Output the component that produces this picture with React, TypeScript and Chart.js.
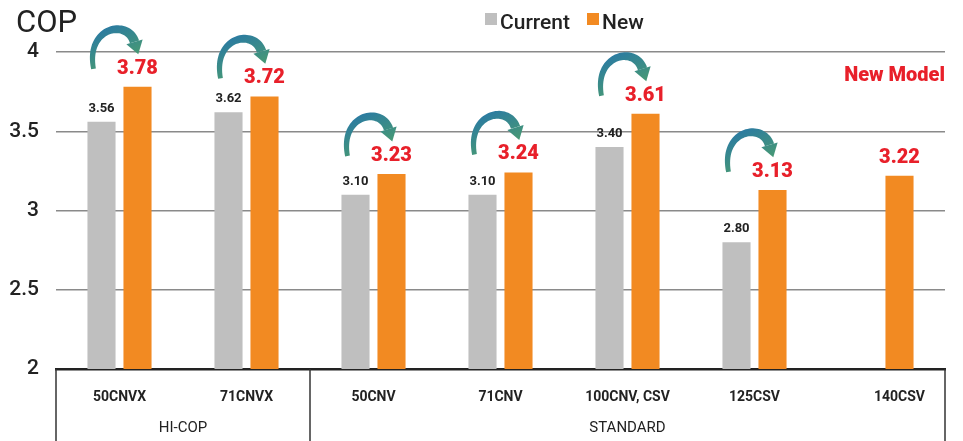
import React, { useEffect, useRef } from 'react';
import { Chart, registerables } from 'chart.js';

Chart.register(...registerables);

const categories = ['50CNVX', '71CNVX', '50CNV', '71CNV', '100CNV, CSV', '125CSV', '140CSV'];
const currentValues: (number | null)[] = [3.56, 3.62, 3.1, 3.1, 3.4, 2.8, null];
const newValues: number[] = [3.78, 3.72, 3.23, 3.24, 3.61, 3.13, 3.22];
const groupLabels = ['HI-COP', 'STANDARD'];
const groupStart = [0, 2];
const groupEnd = [1, 6];
const seriesNames = ['Current', 'New'];
const yMin = 2;
const yMax = 4;
const yStep = 0.5;
const noteText = 'New Model';
const axisTitle = 'COP';

const FONT = 'Roboto, "DejaVu Sans", sans-serif';
const GRAY = '#bfbfbf';
const ORANGE = '#f28a22';
const RED = '#e8202a';
const DARK = '#222222';

function bez(p0: number, p1: number, p2: number, p3: number, t: number) {
  const u = 1 - t;
  return u * u * u * p0 + 3 * u * u * t * p1 + 3 * u * t * t * p2 + t * t * t * p3;
}
function bezD(p0: number, p1: number, p2: number, p3: number, t: number) {
  const u = 1 - t;
  return 3 * u * u * (p1 - p0) + 6 * u * t * (p2 - p1) + 3 * t * t * (p3 - p2);
}

function drawArrow(ctx: CanvasRenderingContext2D, ox: number, ot: number) {
  const P = [
    [ox - 44, ot - 18],
    [ox - 52, ot - 60],
    [ox - 10, ot - 68],
    [ox - 3, ot - 45],
  ];
  const grad = ctx.createLinearGradient(ox - 30, ot - 62, ox - 10, ot - 20);
  grad.addColorStop(0, '#2a7aa3');
  grad.addColorStop(1, '#4c9e6c');
  const left: number[][] = [];
  const right: number[][] = [];
  const N = 40;
  for (let k = 0; k <= N; k++) {
    const t = k / N;
    const x = bez(P[0][0], P[1][0], P[2][0], P[3][0], t);
    const y = bez(P[0][1], P[1][1], P[2][1], P[3][1], t);
    let dx = bezD(P[0][0], P[1][0], P[2][0], P[3][0], t);
    let dy = bezD(P[0][1], P[1][1], P[2][1], P[3][1], t);
    const l = Math.hypot(dx, dy) || 1;
    dx /= l;
    dy /= l;
    const w = 2.4 + 2.4 * t;
    left.push([x - dy * w, y + dx * w]);
    right.push([x + dy * w, y - dx * w]);
  }
  ctx.save();
  ctx.fillStyle = grad;
  ctx.beginPath();
  ctx.moveTo(left[0][0], left[0][1]);
  for (const p of left) ctx.lineTo(p[0], p[1]);
  for (let k = right.length - 1; k >= 0; k--) ctx.lineTo(right[k][0], right[k][1]);
  ctx.closePath();
  ctx.fill();
  // head
  let dx = P[3][0] - P[2][0];
  let dy = P[3][1] - P[2][1];
  const l = Math.hypot(dx, dy);
  dx /= l;
  dy /= l;
  const bx = P[3][0];
  const by = P[3][1];
  const hw = 8.5;
  const hl = 13;
  ctx.beginPath();
  ctx.moveTo(bx - dy * hw, by + dx * hw);
  ctx.lineTo(bx + dx * hl, by + dy * hl);
  ctx.lineTo(bx + dy * hw, by - dx * hw);
  ctx.closePath();
  ctx.fill();
  ctx.restore();
}

const overlayPlugin = {
  id: 'overlay',
  afterDatasetsDraw(chart: any) {
    const ctx: CanvasRenderingContext2D = chart.ctx;
    const area = chart.chartArea;
    const xs = chart.scales.x;
    const m0 = chart.getDatasetMeta(0);
    const m1 = chart.getDatasetMeta(1);
    ctx.save();
    ctx.textAlign = 'center';
    ctx.textBaseline = 'middle';

    // arrows
    m1.data.forEach((bar: any, i: number) => {
      if (currentValues[i] == null) return;
      drawArrow(ctx, bar.x, bar.y);
    });

    // value labels
    m0.data.forEach((bar: any, i: number) => {
      const v = currentValues[i];
      if (v == null) return;
      ctx.font = `bold 13px ${FONT}`;
      ctx.fillStyle = DARK;
      ctx.fillText(v.toFixed(2), bar.x, bar.y - 13);
    });
    m1.data.forEach((bar: any, i: number) => {
      const v = newValues[i];
      ctx.font = `900 20px ${FONT}`;
      ctx.fillStyle = RED;
      ctx.fillText(v.toFixed(2), bar.x, bar.y - 18);
    });

    // category labels
    ctx.font = `bold 14px ${FONT}`;
    ctx.fillStyle = DARK;
    categories.forEach((c, i) => {
      const x = currentValues[i] == null ? m1.data[i].x : xs.getPixelForValue(i);
      ctx.fillText(c, x, 397);
    });

    // group separators and labels
    const H = chart.height;
    ctx.strokeStyle = '#333';
    ctx.lineWidth = 1.5;
    const bounds: number[] = [];
    groupLabels.forEach((g, gi) => {
      const s = groupStart[gi];
      const e = groupEnd[gi];
      const l = s === 0 ? area.left : (xs.getPixelForValue(s - 1) + xs.getPixelForValue(s)) / 2;
      const r = e === categories.length - 1 ? area.right : (xs.getPixelForValue(e) + xs.getPixelForValue(e + 1)) / 2;
      bounds.push(l, r);
      ctx.font = `15px ${FONT}`;
      ctx.fillStyle = DARK;
      ctx.fillText(g, (l + r) / 2, 428);
    });
    const uniq = Array.from(new Set(bounds.map((b) => Math.round(b * 2) / 2)));
    uniq.forEach((b) => {
      ctx.beginPath();
      ctx.moveTo(b, area.bottom);
      ctx.lineTo(b, H);
      ctx.stroke();
    });

    // axis title
    ctx.textAlign = 'left';
    ctx.font = `31px ${FONT}`;
    ctx.fillStyle = DARK;
    ctx.fillText(axisTitle, 16, 24);

    // note
    ctx.textAlign = 'right';
    ctx.font = `900 20px ${FONT}`;
    ctx.fillStyle = RED;
    ctx.fillText(noteText, area.right, 76);

    // legend
    const legendColors = [GRAY, ORANGE];
    const legendX = [485, 587];
    ctx.textAlign = 'left';
    ctx.font = `500 21px ${FONT}`;
    seriesNames.forEach((n, i) => {
      ctx.fillStyle = legendColors[i];
      ctx.fillRect(legendX[i], 13, 12, 12);
      ctx.fillStyle = DARK;
      ctx.fillText(n, legendX[i] + 15, 24);
    });
    ctx.restore();
  },
};

export default function App() {
  const ref = useRef<HTMLCanvasElement | null>(null);
  useEffect(() => {
    if (!ref.current) return;
    const chart = new Chart(ref.current, {
      type: 'bar',
      data: {
        labels: categories,
        datasets: [
          {
            label: seriesNames[0],
            data: currentValues as any,
            backgroundColor: GRAY,
            categoryPercentage: 0.567,
            barPercentage: 0.78,
            borderSkipped: false,
            borderRadius: { topLeft: 0, topRight: 0, bottomLeft: 5, bottomRight: 5 },
          },
          {
            label: seriesNames[1],
            data: newValues,
            backgroundColor: ORANGE,
            categoryPercentage: 0.567,
            barPercentage: 0.78,
            borderSkipped: false,
            borderRadius: { topLeft: 0, topRight: 0, bottomLeft: 5, bottomRight: 5 },
          },
        ],
      },
      options: {
        animation: false,
        responsive: false,
        layout: { padding: { left: 0, right: 18, top: 52, bottom: 0 } },
        plugins: { legend: { display: false }, tooltip: { enabled: false }, title: { display: false } },
        scales: {
          x: {
            grid: { display: false, drawTicks: false },
            border: { display: true, color: DARK, width: 2.5 },
            ticks: { display: false },
            afterFit: (s: any) => {
              s.height = 72;
            },
          },
          y: {
            min: yMin,
            max: yMax,
            ticks: {
              stepSize: yStep,
              padding: 17,
              color: DARK,
              font: { family: FONT, size: 21, weight: '500' as any },
              callback: (v: any) => String(Number(v)),
            },
            grid: {
              drawTicks: false,
              color: (c: any) => (c.tick && c.tick.value === yMin ? 'rgba(0,0,0,0)' : '#8a8a8a'),
              lineWidth: 1.5,
            },
            border: { display: false },
            afterFit: (s: any) => {
              s.width = 56;
            },
          },
        },
      },
      plugins: [overlayPlugin],
    });
    return () => chart.destroy();
  }, []);
  return (
    <div style={{ position: 'fixed', left: 0, top: 0, width: 963, height: 441, background: '#fff' }}>
      <canvas ref={ref} width={963} height={441} style={{ width: 963, height: 441, display: 'block' }} />
    </div>
  );
}
